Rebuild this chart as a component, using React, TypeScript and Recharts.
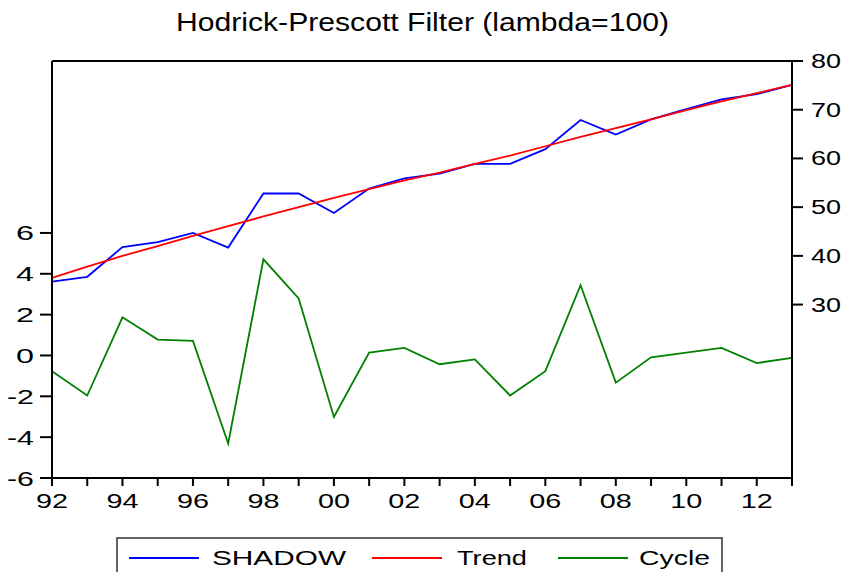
import React from "react";
import {
  LineChart,
  Line,
  XAxis,
  YAxis,
  Legend,
  ReferenceLine,
  Customized,
} from "recharts";

const YEARS = [
  1992, 1993, 1994, 1995, 1996, 1997, 1998, 1999, 2000, 2001, 2002,
  2003, 2004, 2005, 2006, 2007, 2008, 2009, 2010, 2011, 2012, 2013,
];
const SHADOW = [
  34.7, 35.7, 41.8, 42.8, 44.7, 41.7, 52.8, 52.8, 48.8, 53.8, 55.9,
  56.9, 58.9, 58.9, 61.9, 67.9, 64.9, 68.0, 70.1, 72.1, 73.2, 75.1,
];
const TREND = [
  35.5, 37.8, 40.0, 42.0, 44.1, 46.1, 48.1, 50.0, 51.9, 53.7, 55.5,
  57.1, 58.9, 60.6, 62.5, 64.4, 66.2, 68.0, 69.9, 71.7, 73.4, 75.1,
];
const CYCLE = [
  -0.77, -1.96, 1.87, 0.78, 0.71, -4.31, 4.71, 2.79, -3.01, 0.14, 0.37,
  -0.43, -0.19, -1.96, -0.77, 3.44, -1.33, -0.09, 0.14, 0.37, -0.37, -0.12,
];
const LEFT_TICKS = [-6, -4, -2, 0, 2, 4, 6];
const RIGHT_TICKS = [30, 40, 50, 60, 70, 80];

const TITLE = "Hodrick-Prescott Filter (lambda=100)";
const FONT = "'Liberation Sans', Arial, sans-serif";

const data = YEARS.map((year, i) => ({
  year,
  shadow: SHADOW[i],
  trend: TREND[i],
  cycle: CYCLE[i],
}));

// legend entries in the reference's order
const LEGEND_ITEMS = [
  { key: "SHADOW", color: "#0000FF", lineX: 13, textX: 96, textLen: 134 },
  { key: "Trend", color: "#FF0000", lineX: 256, textX: 341, textLen: 70 },
  { key: "Cycle", color: "#008000", lineX: 442, textX: 523, textLen: 71 },
];

const XTick = ({ x, y, payload }: any) => {
  const yr = payload.value as number;
  if (yr % 2 !== 0) return null;
  const label = String(yr % 100).padStart(2, "0");
  return (
    <text x={x} y={y + 15} textAnchor="middle" fontFamily={FONT} fontSize={21} fill="#000"
      textLength={32} lengthAdjust="spacingAndGlyphs">
      {label}
    </text>
  );
};

const LeftTick = ({ x, y, payload }: any) => {
  const label = String(payload.value);
  return (
    <text x={x} y={y + 7.5} textAnchor="end" fontFamily={FONT} fontSize={21} fill="#000"
      textLength={label.length > 1 ? 27 : 18} lengthAdjust="spacingAndGlyphs">
      {label}
    </text>
  );
};

const RightTick = ({ x, y, payload }: any) => (
  <text x={x} y={y + 7} textAnchor="start" fontFamily={FONT} fontSize={20} fill="#000"
    textLength={30} lengthAdjust="spacingAndGlyphs">
    {payload.value}
  </text>
);

const Title = () => (
  <text x={176} y={31} fontFamily={FONT} fontSize={25} fill="#000"
    textLength={493} lengthAdjust="spacingAndGlyphs">
    {TITLE}
  </text>
);

const LegendBox = () => (
  <svg width={607} height={35} style={{ display: "block" }}>
    <rect x={1} y={1} width={605} height={50} fill="#fff" stroke="#333" strokeWidth={1.5} />
    {LEGEND_ITEMS.map((it) => (
      <g key={it.key}>
        <line x1={it.lineX} x2={it.lineX + 70} y1={21} y2={21} stroke={it.color} strokeWidth={1.8} />
        <text x={it.textX} y={28} fontFamily={FONT} fontSize={21} fill="#000"
          textLength={it.textLen} lengthAdjust="spacingAndGlyphs">
          {it.key}
        </text>
      </g>
    ))}
  </svg>
);

export default function App() {
  return (
    <div style={{ position: "absolute", left: 0, top: 0, background: "#fff" }}>
      <LineChart width={848} height={572} data={data}
        margin={{ top: 61, right: 0, bottom: 0, left: 0 }}>
        <XAxis
          dataKey="year"
          type="number"
          domain={[1992, 2013]}
          ticks={YEARS}
          interval={0}
          height={94}
          tickSize={8}
          tickMargin={7}
          tick={<XTick />}
          axisLine={{ stroke: "#000", strokeWidth: 2 }}
          tickLine={{ stroke: "#000", strokeWidth: 2 }}
        />
        <YAxis
          yAxisId="left"
          orientation="left"
          width={52}
          domain={[-6, 14.42]}
          ticks={LEFT_TICKS}
          interval={0}
          allowDataOverflow
          tickSize={12}
          tickMargin={6}
          tick={<LeftTick />}
          axisLine={{ stroke: "#000", strokeWidth: 2 }}
          tickLine={{ stroke: "#000", strokeWidth: 2 }}
        />
        <YAxis
          yAxisId="right"
          orientation="right"
          width={56}
          domain={[-5.6, 80]}
          ticks={RIGHT_TICKS}
          interval={0}
          allowDataOverflow
          tickSize={11}
          tickMargin={8}
          tick={<RightTick />}
          axisLine={{ stroke: "#000", strokeWidth: 2 }}
          tickLine={{ stroke: "#000", strokeWidth: 2 }}
        />
        {/* top frame line at the right axis maximum */}
        <ReferenceLine yAxisId="right" y={80} stroke="#000" strokeWidth={2} />
        <Line yAxisId="right" dataKey="shadow" name="SHADOW" stroke="#0000FF" strokeWidth={1.8}
          dot={false} isAnimationActive={false} />
        <Line yAxisId="right" dataKey="trend" name="Trend" stroke="#FF0000" strokeWidth={1.8}
          dot={false} isAnimationActive={false} />
        <Line yAxisId="left" dataKey="cycle" name="Cycle" stroke="#008000" strokeWidth={1.8}
          dot={false} isAnimationActive={false} />
        <Legend
          layout="horizontal"
          verticalAlign="middle"
          content={<LegendBox />}
          wrapperStyle={{ position: "absolute", left: 116, top: 537, width: 607, height: 35 }}
        />
        <Customized component={Title} />
      </LineChart>
    </div>
  );
}
